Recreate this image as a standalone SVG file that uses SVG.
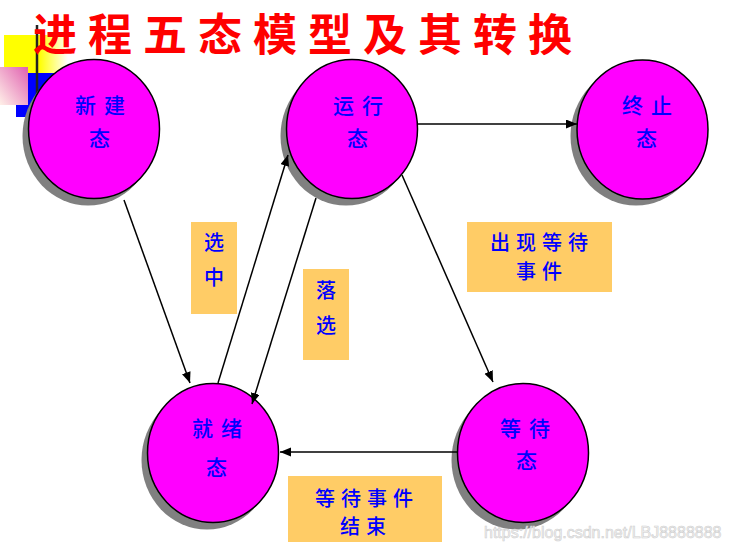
<svg xmlns="http://www.w3.org/2000/svg" width="729" height="551" viewBox="0 0 729 551">
<style>
.shadow{fill:#808080}
.node{fill:#FF00FF;stroke:#000;stroke-width:1.5}
.t{font-family:"Noto Sans CJK SC","Noto Sans CJK JP",sans-serif;font-size:21px;font-weight:500;fill:#0000FF;letter-spacing:8px}
.lb{fill:#FFCC66}
.lt{font-family:"Noto Sans CJK SC","Noto Sans CJK JP",sans-serif;font-size:20px;font-weight:500;fill:#0000FF;text-anchor:middle}
.edge{stroke:#000;stroke-width:1.5;fill:none;marker-end:url(#ah)}
</style>
<defs>
<marker id="ah" markerUnits="userSpaceOnUse" markerWidth="12" markerHeight="10" refX="11" refY="4.5" orient="auto">
<path d="M0,0 L11,4.5 L0,9 Z" fill="#000"/>
</marker>
<linearGradient id="yg" x1="0" y1="0" x2="1" y2="0">
<stop offset="0" stop-color="#FFFF00"/>
<stop offset="0.55" stop-color="#FFFF00"/>
<stop offset="1" stop-color="#FFFFFF"/>
</linearGradient>
<linearGradient id="pg" x1="1" y1="0" x2="0" y2="1">
<stop offset="0" stop-color="#E060B0"/>
<stop offset="1" stop-color="#FFF0E8"/>
</linearGradient>
<linearGradient id="hg" x1="0" y1="0" x2="1" y2="0">
<stop offset="0" stop-color="#222222"/>
<stop offset="0.3" stop-color="#7a7a6a"/>
<stop offset="0.6" stop-color="#cfcf9f"/>
<stop offset="1" stop-color="#f0f0cc"/>
</linearGradient>
</defs>
<rect width="729" height="551" fill="#FFFFFF"/>
<g id="decoration">
<rect x="4" y="35" width="64" height="38" fill="url(#yg)"/>
<rect x="16" y="73" width="40" height="44" fill="#0000FF"/>
<rect x="0" y="67" width="28" height="38" fill="url(#pg)"/>
<line x1="6" y1="99" x2="729" y2="99" stroke="url(#hg)" stroke-width="3"/>
<line x1="37" y1="25" x2="37" y2="100" stroke="#222" stroke-width="2.5"/>
</g>
<g id="title">
<text x="33" y="51" font-family="'Noto Sans CJK SC','Noto Sans CJK JP',sans-serif" font-size="44" font-weight="bold" fill="#FF0000" letter-spacing="11">进程五态模型及其转换</text>
</g>
<g id="node-new">
<ellipse class="shadow" cx="88" cy="136" rx="65.5" ry="69.5"/>
<ellipse class="node" cx="94" cy="129" rx="65.5" ry="69.5"/>
<text class="t" x="75" y="113">新建</text>
<text class="t" x="89" y="146">态</text>
</g>
<g id="node-run">
<ellipse class="shadow" cx="346" cy="136" rx="65.5" ry="69.5"/>
<ellipse class="node" cx="352" cy="129" rx="65.5" ry="69.5"/>
<text class="t" x="333" y="113">运行</text>
<text class="t" x="347" y="146">态</text>
</g>
<g id="node-exit">
<ellipse class="shadow" cx="636" cy="136" rx="65.5" ry="69.5"/>
<ellipse class="node" cx="642.5" cy="129.5" rx="65.5" ry="69.5"/>
<text class="t" x="622" y="113">终止</text>
<text class="t" x="636" y="146">态</text>
</g>
<g id="node-ready">
<ellipse class="shadow" cx="207" cy="460" rx="65.5" ry="69.5"/>
<ellipse class="node" cx="213" cy="453" rx="65.5" ry="69.5"/>
<text class="t" x="192" y="436">就绪</text>
<text class="t" x="206" y="475">态</text>
</g>
<g id="node-wait">
<ellipse class="shadow" cx="517" cy="460" rx="65.5" ry="69.5"/>
<ellipse class="node" cx="523" cy="453" rx="65.5" ry="69.5"/>
<text class="t" x="500" y="436">等待</text>
<text class="t" x="516" y="468">态</text>
</g>
<g id="labels">
<g id="label-select">
<rect class="lb" x="191" y="222" width="46" height="92"/>
<text class="lt" x="214" y="250">选</text>
<text class="lt" x="214" y="285">中</text>
</g>
<g id="label-deselect">
<rect class="lb" x="303" y="269" width="46" height="91"/>
<text class="lt" x="326" y="298">落</text>
<text class="lt" x="326" y="333">选</text>
</g>
<g id="label-event">
<rect class="lb" x="467" y="222" width="145" height="70"/>
<text class="lt" x="542" y="250" letter-spacing="6">出现等待</text>
<text class="lt" x="542" y="279" letter-spacing="6">事件</text>
</g>
<g id="label-eventend">
<rect class="lb" x="288" y="476" width="154" height="66"/>
<text class="lt" x="367" y="506" letter-spacing="6">等待事件</text>
<text class="lt" x="366" y="534" letter-spacing="6">结束</text>
</g>
</g>
<g id="connectors">
<line class="edge" x1="124" y1="200" x2="190" y2="383"/>
<line class="edge" x1="218" y1="383" x2="288" y2="155"/>
<line class="edge" x1="316" y1="198" x2="252" y2="404"/>
<line class="edge" x1="418" y1="124" x2="577" y2="124"/>
<line class="edge" x1="402" y1="175" x2="493" y2="382"/>
<line class="edge" x1="457" y1="452" x2="280" y2="452"/>
</g>
<text x="484" y="538" font-family="'Liberation Sans',Arial,sans-serif" font-size="16" fill="#f4f4f4" stroke="#cfcfcf" stroke-width="0.6">https://blog.csdn.net/LBJ8888888</text>
</svg>
